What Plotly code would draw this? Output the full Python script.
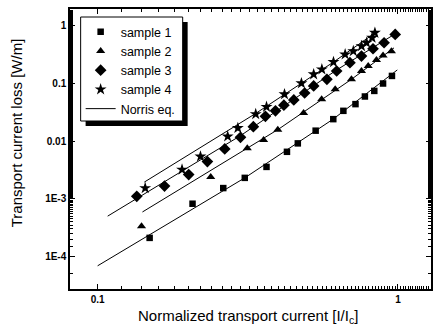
import plotly.graph_objects as go

# ---- data ----
s1_x = [0.149, 0.207, 0.262, 0.309, 0.365, 0.427, 0.464, 0.532, 0.609, 0.658, 0.722, 0.776, 0.834, 0.892, 0.955]
s1_y = [2.1e-4, 8.2e-4, 1.53e-3, 2.3e-3, 3.56e-3, 6.5e-3, 9.1e-3, 0.0151, 0.0239, 0.0333, 0.0435, 0.059, 0.0737, 0.099, 0.134]

s2_x = [0.140, 0.238, 0.315, 0.357, 0.398, 0.485, 0.557, 0.618, 0.700, 0.756, 0.796, 0.848, 0.892, 0.951]
s2_y = [3.33e-4, 2.37e-3, 7.5e-3, 0.0104, 0.0157, 0.0304, 0.053, 0.0788, 0.117, 0.163, 0.199, 0.252, 0.304, 0.360]

s3_x = [0.135, 0.167, 0.201, 0.232, 0.265, 0.299, 0.330, 0.362, 0.391, 0.417, 0.450, 0.489, 0.524, 0.580, 0.625, 0.692, 0.756, 0.826, 0.899, 0.979]
s3_y = [1.10e-3, 1.66e-3, 2.62e-3, 4.4e-3, 7.3e-3, 0.0116, 0.0177, 0.0267, 0.0333, 0.0418, 0.0515, 0.0678, 0.0898, 0.117, 0.163, 0.227, 0.296, 0.396, 0.503, 0.70]

s4_x = [0.144, 0.191, 0.220, 0.271, 0.293, 0.336, 0.365, 0.419, 0.477, 0.524, 0.558, 0.610, 0.667, 0.710, 0.756, 0.786, 0.820, 0.838]
s4_y = [1.53e-3, 3.2e-3, 5.4e-3, 0.0120, 0.0168, 0.0292, 0.039, 0.0646, 0.100, 0.143, 0.174, 0.233, 0.316, 0.360, 0.44, 0.503, 0.614, 0.748]

# Norris eq. curves
n1_x = [0.100, 0.309, 0.609, 0.995]
n1_y = [6.9e-5, 2.3e-3, 0.024, 0.17]
n2_x = [0.141, 0.400, 0.700, 0.970]
n2_y = [5.9e-4, 0.0160, 0.117, 0.41]
n3_x = [0.108, 0.300, 0.625, 0.980]
n3_y = [5.0e-4, 0.0125, 0.170, 0.72]
n4_x = [0.143, 0.336, 0.610, 0.840]
n4_y = [1.94e-3, 0.0300, 0.233, 0.75]

series_names = ["sample 1", "sample 2", "sample 3", "sample 4"]
series = [
    (series_names[0], s1_x, s1_y, "square", 6.5),
    (series_names[1], s2_x, s2_y, "triangle-up", 8),
    (series_names[2], s3_x, s3_y, "diamond", 9),
    (series_names[3], s4_x, s4_y, "star", 9),
]
norris = [(n1_x, n1_y), (n2_x, n2_y), (n3_x, n3_y), (n4_x, n4_y)]

y_tickvals = [1e-4, 1e-3, 1e-2, 1e-1, 1]
y_ticktext = ["1E-4", "1E-3", "0.01", "0.1", "1"]
x_tickvals = [0.1, 1]
x_ticktext = ["0.1", "1"]

FONT = "Liberation Sans, Arial, sans-serif"

fig = go.Figure()
for name, xs, ys, sym, sz in series:
    fig.add_trace(go.Scatter(
        x=xs, y=ys, mode="markers", name=name,
        marker=dict(symbol=sym, size=sz, color="black", line=dict(width=0)),
    ))
for i, (xs, ys) in enumerate(norris):
    fig.add_trace(go.Scatter(
        x=xs, y=ys, mode="lines", name="Norris eq.",
        line=dict(color="black", width=1),
        showlegend=(i == 0),
    ))

W, H = 436, 327
L, R, T, B = 70, 3, 9, 38
pw, ph = W - L - R, H - T - B

def px2paper(px, py):
    return (px - L) / pw, (H - B - py) / ph

# legend frame with drop shadow
box_l, box_t, box_r, box_b = 80.7, 17, 183.3, 121
sh = 5
sx0, sy0 = px2paper(box_l + sh, box_b + sh)
sx1, sy1 = px2paper(box_r + sh, box_t + sh)
fig.add_shape(type="rect", xref="paper", yref="paper",
              x0=sx0, x1=sx1, y0=sy0, y1=sy1,
              fillcolor="black", line=dict(width=0), layer="above")
bx0, by0 = px2paper(box_l, box_b)
bx1, by1 = px2paper(box_r, box_t)
fig.add_shape(type="rect", xref="paper", yref="paper",
              x0=bx0, x1=bx1, y0=by0, y1=by1,
              fillcolor="white", line=dict(color="black", width=1), layer="above")

lx, ly = px2paper(80.7, 17)

axis_common = dict(
    type="log", showline=True, linecolor="black", linewidth=1.5,
    mirror="allticks", ticks="inside", ticklen=5, tickwidth=1,
    tickcolor="black", showgrid=False, zeroline=False,
    tickfont=dict(family=FONT, size=10, color="black", weight="bold"),
    minor=dict(ticks="inside", ticklen=3, tickwidth=1, tickcolor="black", showgrid=False),
)

fig.update_layout(
    width=W, height=H,
    margin=dict(l=L, r=R, t=T, b=B, pad=0),
    paper_bgcolor="white", plot_bgcolor="white",
    font=dict(family=FONT, color="black"),
    showlegend=True,
    legend=dict(
        x=lx, y=ly, xanchor="left", yanchor="top",
        bgcolor="rgba(0,0,0,0)", borderwidth=0,
        font=dict(family=FONT, size=12.5, color="black"),
        tracegroupgap=0, itemwidth=30,
    ),
    xaxis=dict(axis_common, range=[-1.092, 0.110],
               tickvals=x_tickvals, ticktext=x_ticktext),
    yaxis=dict(axis_common, range=[-4.563, 0.286],
               tickvals=y_tickvals, ticktext=y_ticktext),
    annotations=[
        dict(text="Normalized transport current [I/I<sub>c</sub>]",
             xref="paper", yref="paper", x=(249 - L) / pw, y=(H - B - 316) / ph,
             xanchor="center", yanchor="middle", showarrow=False,
             font=dict(family=FONT, size=15, color="black")),
        dict(text="Transport current loss [W/m]",
             xref="paper", yref="paper", x=(16 - L) / pw, y=(H - B - 133) / ph,
             xanchor="center", yanchor="middle", showarrow=False, textangle=-90,
             font=dict(family=FONT, size=15, color="black")),
    ],
)

fig.write_html("out.html")
